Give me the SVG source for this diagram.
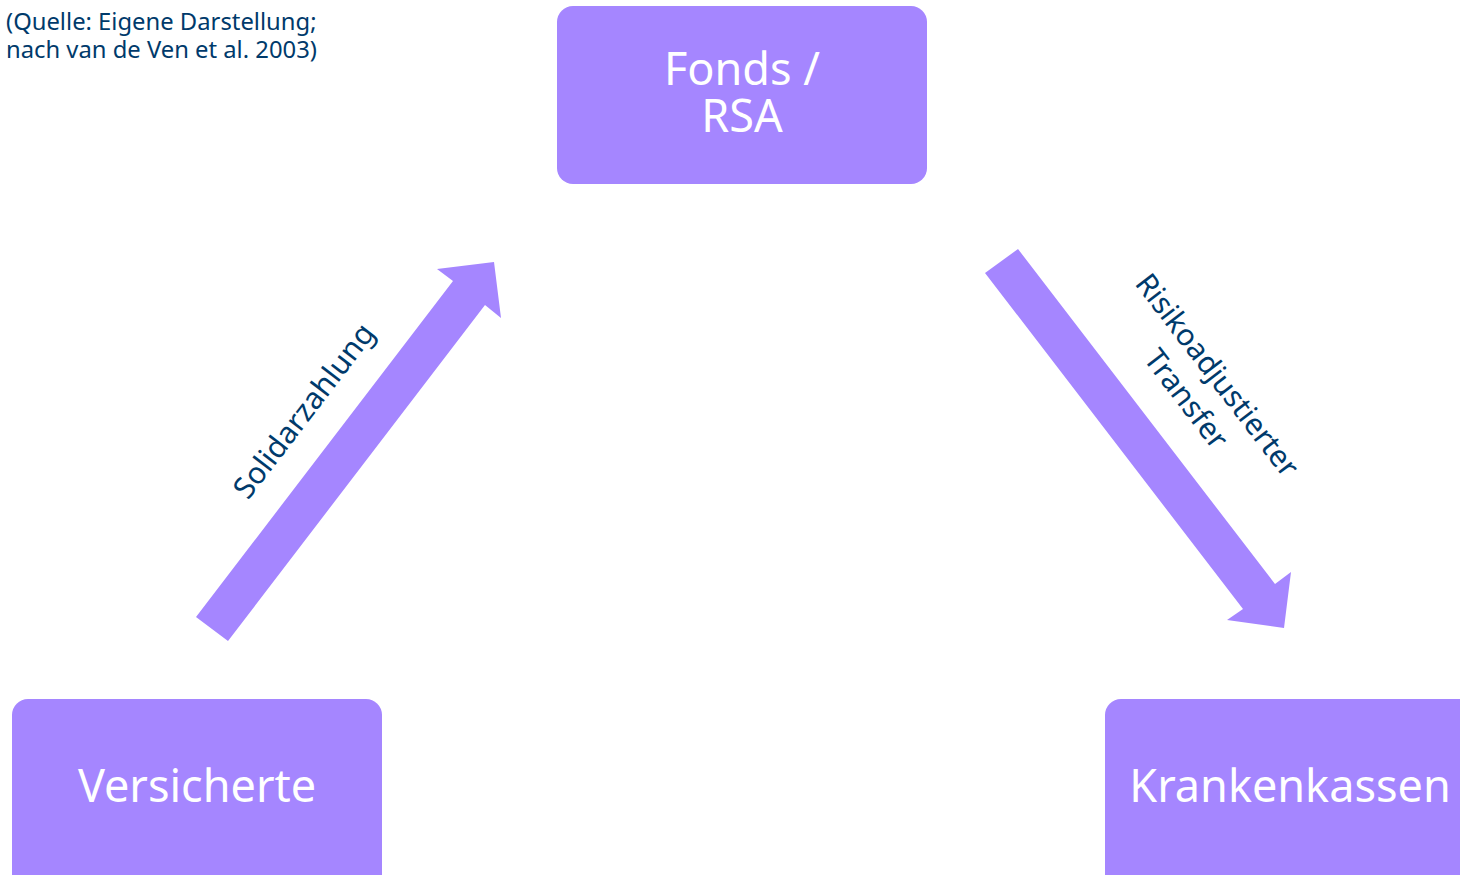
<svg xmlns="http://www.w3.org/2000/svg" width="1460" height="875" viewBox="0 0 1460 875">
<style>
.box{fill:#a586ff}
.arrow{fill:#a586ff}
.nt{font-family:"Noto Sans","DejaVu Sans",sans-serif;font-size:45px;fill:#ffffff;text-anchor:middle}
.lbl{font-family:"Noto Sans","DejaVu Sans",sans-serif;font-size:30px;fill:#003a6b;text-anchor:middle}
.src{font-family:"Noto Sans","DejaVu Sans",sans-serif;font-size:23.8px;fill:#003a6b}
</style>
<rect width="1460" height="875" fill="#ffffff"/>
<g id="source">
<text class="src" x="6" y="30">(Quelle: Eigene Darstellung;</text>
<text class="src" x="6" y="58">nach van de Ven et al. 2003)</text>
</g>
<g id="connectors">
<polygon class="arrow" points="196,617 453,281 437,269 494,262 501,318 485,305 228,641"/>
<polygon class="arrow" points="985,273 1018,249 1275,584 1291,572 1284,628 1227,620 1243,609"/>
<g transform="translate(304,411) rotate(-52.6)">
<text class="lbl" x="0" y="10">Solidarzahlung</text>
</g>
<g transform="translate(1202,387) rotate(52.5)">
<text class="lbl" x="0" y="-9">Risikoadjustierter</text>
<text class="lbl" x="0" y="30">Transfer</text>
</g>
</g>
<g id="fonds">
<rect class="box" x="557" y="6" width="370" height="178" rx="16"/>
<text class="nt" x="742" y="85">Fonds /</text>
<text class="nt" x="742" y="132">RSA</text>
</g>
<g id="versicherte">
<rect class="box" x="12" y="699" width="370" height="200" rx="16"/>
<text class="nt" x="197" y="802">Versicherte</text>
</g>
<g id="krankenkassen">
<rect class="box" x="1105" y="699" width="370" height="200" rx="16"/>
<text class="nt" x="1290" y="802">Krankenkassen</text>
</g>
</svg>
